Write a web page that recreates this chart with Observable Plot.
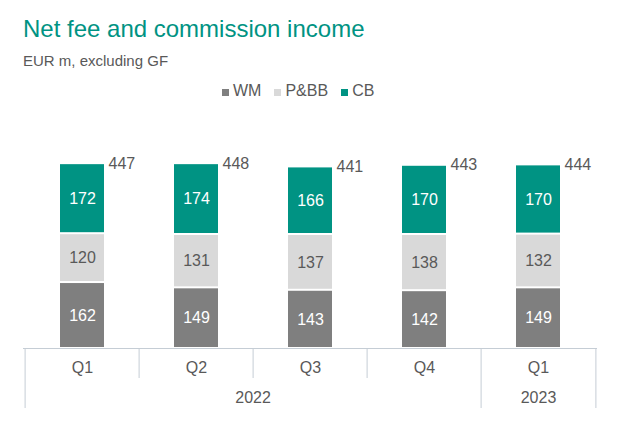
<!DOCTYPE html>
<html>
<head>
<meta charset="utf-8">
<script src="https://cdn.jsdelivr.net/npm/d3@7"></script>
<script src="https://cdn.jsdelivr.net/npm/@observablehq/plot@0.6"></script>
<style>
  html, body { margin: 0; padding: 0; background: #fff; }
  body { width: 640px; height: 446px; overflow: hidden; font-family: "Liberation Sans", Arial, sans-serif; }
  #header { position: relative; height: 110px; }
  #title { position: absolute; left: 23px; top: 16.5px; font-size: 24px; line-height: 1; color: #009383; white-space: nowrap; }
  #subtitle { position: absolute; left: 23px; top: 52.5px; font-size: 15px; line-height: 1; color: #595959; white-space: nowrap; }
  #legend { position: absolute; left: 222px; top: 83px; font-size: 16px; line-height: 1; color: #595959; white-space: nowrap; display: flex; }
  .item { display: flex; align-items: baseline; margin-right: 13px; }
  .sw { display: inline-block; width: 7px; height: 7px; margin-right: 4px; }
  #chart svg { display: block; }
</style>
</head>
<body>
<div id="header">
  <div id="title">Net fee and commission income</div>
  <div id="subtitle">EUR m, excluding GF</div>
  <div id="legend"></div>
</div>
<div id="chart"></div>
<script>
// ---- data ----
const quarters = ["Q1", "Q2", "Q3", "Q4", "Q1"];
const years = ["2022", "2022", "2022", "2022", "2023"];
const series = ["WM", "P&BB", "CB"];
const wm = [162, 149, 143, 142, 149];
const pbb = [120, 131, 137, 138, 132];
const cb = [172, 174, 166, 170, 170];
const totals = [447, 448, 441, 443, 444];

// ---- styles ----
const seriesColors = ["#7f7f7f", "#d9d9d9", "#009383"];
const textDark = "#595959";
const axisColor = "#c5cdd5";
const fontFamily = "'Liberation Sans', Arial, sans-serif";

// legend
const legend = document.getElementById("legend");
series.forEach((s, i) => {
  const it = document.createElement("span");
  it.className = "item";
  const sw = document.createElement("span");
  sw.className = "sw";
  sw.style.background = seriesColors[i];
  it.appendChild(sw);
  it.appendChild(document.createTextNode(s));
  legend.appendChild(it);
});

// table
const ids = quarters.map((q, i) => years[i] + " " + q);
const valuesBySeries = [wm, pbb, cb];
const rows = [];
ids.forEach((id, i) => {
  series.forEach((s, j) => {
    rows.push({id, series: s, value: valuesBySeries[j][i], total: totals[i]});
  });
});

// layout
const W = 640, H = 336, mL = 23, mR = 43, mT = 10, mB = 98;
const step = (W - mL - mR) / ids.length;
const barW = 44;
const pInner = 1 - barW / step;

const firstOfYear = ids.filter((d, i) => i === 0 || years[i] !== years[i - 1]);
const innerSeps = ids.filter((d, i) => i > 0 && years[i] === years[i - 1]);

const uniqueYears = Array.from(new Set(years));
const yearMarks = uniqueYears.map(y => {
  const idx = years.map((v, i) => v === y ? i : -1).filter(i => i >= 0);
  const n = idx.length;
  const mid = idx[Math.floor(n / 2)];
  const dx = n % 2 === 0 ? -step / 2 : 0;
  return Plot.text([y], {x: () => ids[mid], y: 0, text: d => d, dx, dy: 49.5,
    lineAnchor: "middle", fill: textDark, fontSize: 16});
});

const chart = Plot.plot({
  width: W,
  height: H,
  marginLeft: mL,
  marginRight: mR,
  marginTop: mT,
  marginBottom: mB,
  style: {fontFamily, background: "#fff"},
  x: {domain: ids, paddingInner: pInner, paddingOuter: pInner / 2, axis: null},
  y: {domain: [0, 560], axis: null},
  color: {domain: series, range: seriesColors},
  marks: [
    Plot.barY(rows, {x: "id", y: "value", fill: "series", insetTop: 1, insetBottom: 1}),
    Plot.ruleY([0], {stroke: axisColor}),
    Plot.ruleX(firstOfYear, {x: d => d, y1: 0, y2: 0, dx: -step / 2, insetBottom: -60, stroke: axisColor}),
    Plot.ruleX(innerSeps, {x: d => d, y1: 0, y2: 0, dx: -step / 2, insetBottom: -30, stroke: axisColor}),
    Plot.ruleX([ids[ids.length - 1]], {x: d => d, y1: 0, y2: 0, dx: step / 2, insetBottom: -60, stroke: axisColor}),
    Plot.text(rows, Plot.stackY({x: "id", y: "value",
      text: d => d.series !== "P&BB" ? String(d.value) : null,
      fill: "white", fontSize: 16, lineAnchor: "middle"})),
    Plot.text(rows, Plot.stackY({x: "id", y: "value",
      text: d => d.series === "P&BB" ? String(d.value) : null,
      fill: textDark, fontSize: 16, lineAnchor: "middle"})),
    Plot.text(rows, Plot.stackY2({x: "id", y: "value",
      text: d => d.series === "CB" ? String(d.total) : null,
      dx: barW / 2 + 4, textAnchor: "start", lineAnchor: "middle",
      fill: textDark, fontSize: 16})),
    Plot.text(ids, {x: d => d, y: 0, text: (d, i) => quarters[i], dy: 19.5,
      lineAnchor: "middle", fill: textDark, fontSize: 16}),
    ...yearMarks
  ]
});
document.getElementById("chart").appendChild(chart);
</script>
</body>
</html>
